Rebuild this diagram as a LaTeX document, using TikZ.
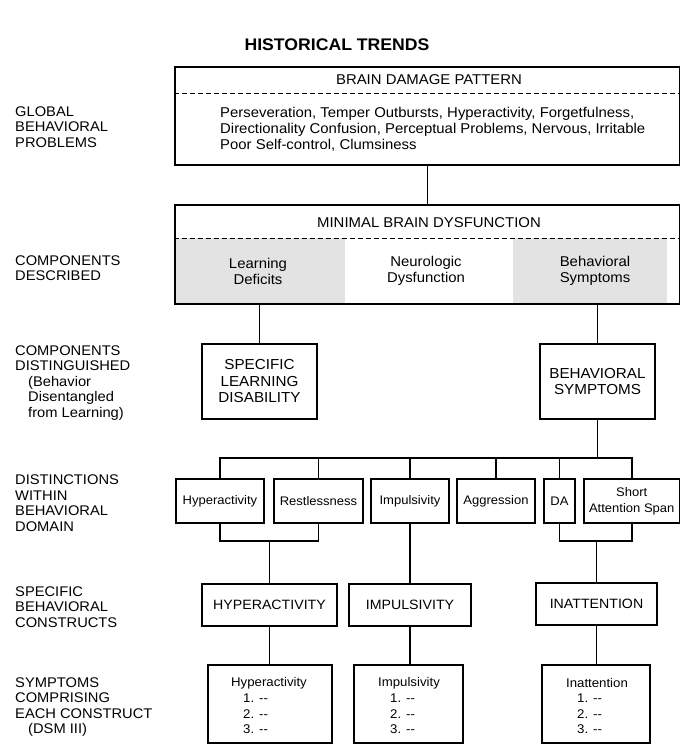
\documentclass[tikz,border=0pt]{standalone}
\usepackage{fontspec}
\setmainfont[FakeStretch=1.05]{Liberation Sans}
\usetikzlibrary{calc}

\begin{document}
\begin{tikzpicture}[x=1pt, y=-1pt,
    box/.style={draw, line width=1.2pt, inner sep=0pt, align=center, font=\fontsize{14.5}{16.5}\selectfont},
    smallbox/.style={box, font=\fontsize{12.4}{16}\selectfont},
    capbox/.style={box, font=\fontsize{13.5}{16}\selectfont},
    lbl/.style={anchor=west, align=left, inner sep=0pt, font=\fontsize{14}{15.5}\selectfont},
    txt/.style={inner sep=0pt, align=center, font=\fontsize{14.2}{16}\selectfont},
    link/.style={line width=1.5pt}]
    \useasboundingbox (0,0) rectangle (680,744);

    \fill[black!11] (176,238) rectangle (345,303);
    \fill[black!11] (513,238) rectangle (667,303);

    \node[font=\bfseries\fontsize{16.8}{18}\selectfont] (title) at (337,45) {HISTORICAL TRENDS};

    \node[lbl] (lglobal) at (15,127) {GLOBAL\\BEHAVIORAL\\PROBLEMS};
    \node[lbl] (ldescr) at (15,268) {COMPONENTS\\DESCRIBED};
    \node[lbl] (ldisting) at (15,383) {COMPONENTS\\DISTINGUISHED\\\hspace*{13pt}(Behavior\\\hspace*{13pt}Disentangled\\\hspace*{13pt}from Learning)};
    \node[lbl] (ldomain) at (15,503) {DISTINCTIONS\\WITHIN\\BEHAVIORAL\\DOMAIN};
    \node[lbl] (lconstr) at (15,607) {SPECIFIC\\BEHAVIORAL\\CONSTRUCTS};
    \node[lbl] (lsympt) at (15,707) {SYMPTOMS\\COMPRISING\\EACH CONSTRUCT\\\hspace*{13pt}(DSM III)};

    \node[box, minimum width=504.5, minimum height=98] (bdp) at (427.25,116) {};
    \draw[line width=0.9pt, dash pattern=on 5pt off 3pt] (bdp.west |- 0,93) -- (bdp.east |- 0,93);
    \node[txt] (bdptitle) at (429,80) {BRAIN DAMAGE PATTERN};
    \node[txt, anchor=north west, align=left] (bdptext) at (220,107) {Perseveration, Temper Outbursts, Hyperactivity, Forgetfulness,\\Directionality Confusion, Perceptual Problems, Nervous, Irritable\\Poor Self-control, Clumsiness};

    \node[box, minimum width=504.5, minimum height=99] (mbd) at (427.25,254.5) {};
    \draw[line width=0.9pt, dash pattern=on 5pt off 3pt] (mbd.west |- 0,238) -- (mbd.east |- 0,238);
    \node[txt] (mbdtitle) at (429,223) {MINIMAL BRAIN DYSFUNCTION};
    \node[txt] (learn) at (258,271) {Learning\\Deficits};
    \node[txt] (neuro) at (426,271) {Neurologic\\Dysfunction};
    \node[txt] (behav) at (595,271) {Behavioral\\Symptoms};

    \node[box, minimum width=115, minimum height=75] (sld) at (259.5,381.5) {SPECIFIC\\LEARNING\\DISABILITY};
    \node[box, minimum width=115, minimum height=75] (bsym) at (597.5,381.5) {BEHAVIORAL\\SYMPTOMS};

    \node[smallbox, minimum width=88, minimum height=44] (hyp) at (220,501) {Hyperactivity};
    \node[smallbox, minimum width=89, minimum height=44] (rest) at (318.5,501) {Restlessness};
    \node[smallbox, minimum width=78, minimum height=44] (imp) at (410,501) {Impulsivity};
    \node[smallbox, minimum width=78, minimum height=44] (agg) at (496,501) {Aggression};
    \node[smallbox, minimum width=31, minimum height=44] (da) at (559.5,501) {DA};
    \node[smallbox, minimum width=95.5, minimum height=44] (sas) at (631.75,501) {Short\\Attention Span};

    \node[capbox, minimum width=135, minimum height=42] (hypc) at (269.5,605) {HYPERACTIVITY};
    \node[capbox, minimum width=122, minimum height=42] (impc) at (410,605) {IMPULSIVITY};
    \node[capbox, minimum width=121, minimum height=42] (inac) at (596.5,604) {INATTENTION};

    \node[box, minimum width=124, minimum height=78] (symhyp) at (270,704) {};
    \node[box, minimum width=109, minimum height=78] (symimp) at (408.5,704) {};
    \node[box, minimum width=108, minimum height=78] (symina) at (596,704) {};
    \node[txt, font=\fontsize{12.6}{15.5}\selectfont] (symhyptitle) at (269,683) {Hyperactivity};
    \node[txt, font=\fontsize{12.6}{15.5}\selectfont] (symimptitle) at (409,683) {Impulsivity};
    \node[txt, font=\fontsize{12.6}{15.5}\selectfont] (syminatitle) at (597,683) {Inattention};
    \node[txt, anchor=north west, align=left, font=\fontsize{12.6}{15.5}\selectfont] (symhyplist) at (243,694) {1. -{}-\\2. -{}-\\3. -{}-};
    \node[txt, anchor=north west, align=left, font=\fontsize{12.6}{15.5}\selectfont] (symimplist) at (390,694) {1. -{}-\\2. -{}-\\3. -{}-};
    \node[txt, anchor=north west, align=left, font=\fontsize{12.6}{15.5}\selectfont] (syminalist) at (577,694) {1. -{}-\\2. -{}-\\3. -{}-};

    \coordinate (bus) at (0,458);
    \coordinate (brk) at (0,541);

    \draw[link] (bdp) -- (mbd);
    \draw[link] (mbd.south -| sld) -- (sld);
    \draw[link] (mbd.south -| bsym) -- (bsym);
    \draw[link] (bsym.south) -- (bsym.south |- bus);
    \draw[link] (hyp.north) |- (sas.north |- bus) -- (sas.north);
    \foreach \n in {rest,imp,agg,da}
        \draw[link] (\n.north) -- (\n.north |- bus);
    \draw[link] (hyp.south) |- (rest.south |- brk) -- (rest.south);
    \draw[link] (hypc.north) -- (hypc.north |- brk);
    \draw[link] (imp.south) -- (impc.north);
    \draw[link] (da.south) |- (sas.south |- brk) -- (sas.south);
    \draw[link] (inac.north) -- (inac.north |- brk);
    \draw[link] (hypc.south) -- (hypc.south |- symhyp.north);
    \draw[link] (impc.south) -- (impc.south |- symimp.north);
    \draw[link] (inac.south) -- (inac.south |- symina.north);
\end{tikzpicture}
\end{document}
